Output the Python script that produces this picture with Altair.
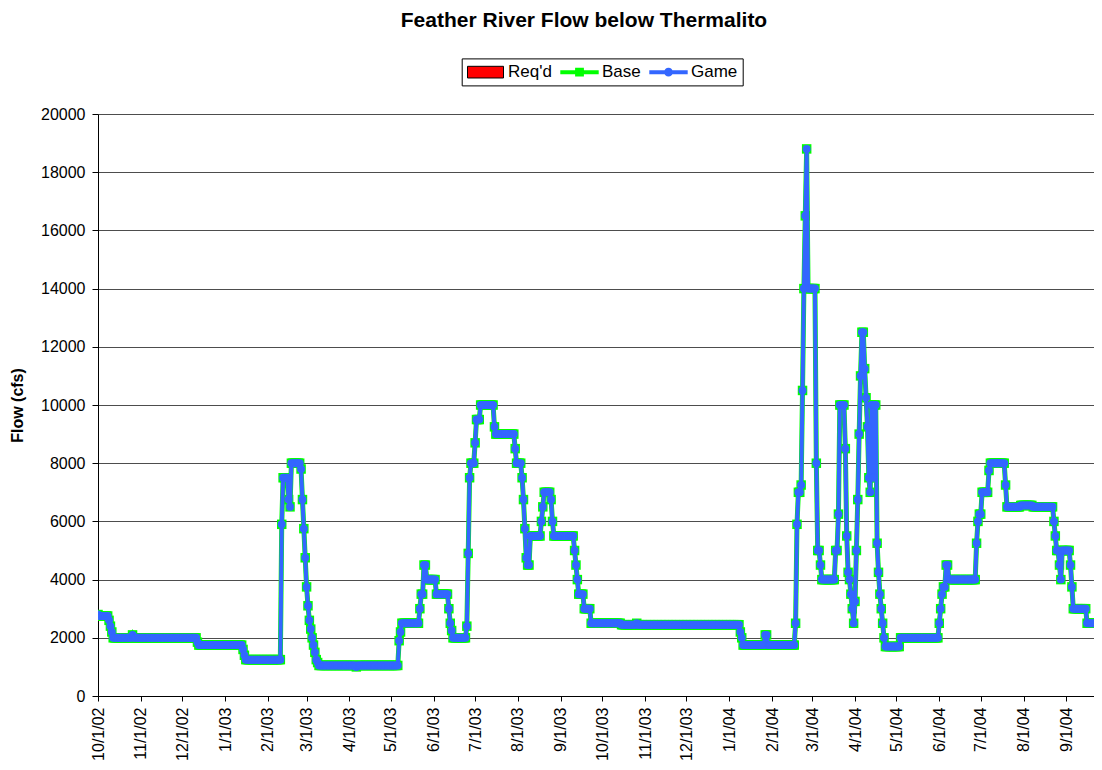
import altair as alt
import pandas as pd

FONT = "Liberation Sans"

# ---- data: daily flow, given as runs (start date of each constant run, value in cfs)
run_dates = [
    "2002-10-01", "2002-10-02", "2002-10-09", "2002-10-10", "2002-10-11", "2002-10-12",
    "2002-10-26", "2002-10-27",
    "2002-12-12", "2002-12-13",
    "2003-01-14", "2003-01-15", "2003-01-16",
    "2003-02-11", "2003-02-12", "2003-02-16", "2003-02-17", "2003-02-18", "2003-02-25",
    "2003-02-26", "2003-02-27", "2003-02-28", "2003-03-01", "2003-03-02", "2003-03-03",
    "2003-03-04", "2003-03-05", "2003-03-06", "2003-03-07", "2003-03-08", "2003-03-09",
    "2003-03-10",
    "2003-04-06", "2003-04-07",
    "2003-05-07", "2003-05-08", "2003-05-09",
    "2003-05-22", "2003-05-23", "2003-05-25", "2003-05-27",
    "2003-06-03", "2003-06-12", "2003-06-13", "2003-06-14", "2003-06-15",
    "2003-06-25", "2003-06-26", "2003-06-27", "2003-06-28", "2003-07-01", "2003-07-02",
    "2003-07-05", "2003-07-15", "2003-07-16", "2003-07-30", "2003-07-31",
    "2003-08-04", "2003-08-05", "2003-08-06", "2003-08-07", "2003-08-08", "2003-08-10",
    "2003-08-18", "2003-08-19", "2003-08-20", "2003-08-25", "2003-08-26", "2003-08-27",
    "2003-09-11", "2003-09-12", "2003-09-13", "2003-09-14", "2003-09-18", "2003-09-23",
    "2003-10-15", "2003-10-26", "2003-10-27",
    "2004-01-09", "2004-01-10", "2004-01-11", "2004-01-27", "2004-01-29",
    "2004-02-18", "2004-02-19", "2004-02-20", "2004-02-22", "2004-02-23", "2004-02-24",
    "2004-02-25", "2004-02-26", "2004-02-27",
    "2004-03-04", "2004-03-05", "2004-03-07", "2004-03-08", "2004-03-18", "2004-03-20",
    "2004-03-21", "2004-03-25", "2004-03-26", "2004-03-27", "2004-03-28", "2004-03-29",
    "2004-03-30", "2004-03-31", "2004-04-01", "2004-04-02", "2004-04-03", "2004-04-04",
    "2004-04-05", "2004-04-06", "2004-04-08", "2004-04-09", "2004-04-10", "2004-04-11",
    "2004-04-12", "2004-04-13", "2004-04-14", "2004-04-15", "2004-04-17", "2004-04-18",
    "2004-04-19", "2004-04-20", "2004-04-21", "2004-04-22", "2004-04-23", "2004-05-04",
    "2004-06-01", "2004-06-02", "2004-06-03", "2004-06-04", "2004-06-06", "2004-06-08",
    "2004-06-28", "2004-06-29", "2004-06-30", "2004-07-02", "2004-07-07", "2004-07-08",
    "2004-07-19", "2004-07-20", "2004-07-30", "2004-08-08", "2004-08-23", "2004-08-24",
    "2004-08-25", "2004-08-27", "2004-08-28", "2004-08-29", "2004-09-04", "2004-09-05",
    "2004-09-06", "2004-09-16",
]
run_values = [
    2800, 2750, 2600, 2400, 2200, 2000,
    2100, 2000,
    1850, 1750,
    1600, 1400, 1250,
    5900, 7500, 6750, 6500, 8000, 7800,
    6750, 5750, 4750, 3750, 3100, 2600,
    2300, 2000, 1750, 1500, 1250, 1150,
    1050,
    1000, 1050,
    1900, 2200, 2500,
    3000, 3500, 4500, 4000,
    3500, 3000, 2500, 2250, 2000,
    2400, 4900, 7500, 8000, 8700, 9500,
    10000, 9250, 9000, 8500, 8000,
    7500, 6750, 5750, 4750, 4500, 5500,
    6000, 6500, 7000, 6750, 6000, 5500,
    5000, 4500, 4000, 3500, 3000, 2500,
    2450, 2500, 2450,
    2200, 2000, 1750, 2100, 1750,
    2500, 5900, 7000, 7250, 10500, 14000,
    16500, 18800, 14000,
    8000, 5000, 4500, 4000, 5000, 6250,
    10000, 8500, 5500, 4250, 4000, 3500,
    3000, 2500, 3250, 5000, 6750, 9000,
    11000, 12500, 11250, 10250, 9250, 7500,
    7000, 10000, 7500, 10000, 5250, 4250,
    3500, 3000, 2500, 2000, 1700, 2000,
    2500, 3000, 3500, 3750, 4500, 4000,
    5250, 6000, 6250, 7000, 7750, 8000,
    7250, 6500, 6550, 6500, 6000, 5500,
    5000, 4500, 4000, 5000, 4500, 3750,
    3000, 2500,
]
series_names = ["Req'd", "Base", "Game"]
series_colors = ["#FF0000", "#00FF00", "#3366FF"]
legend_outline = ["#000000", "transparent", "transparent"]
tick_months = [(2002, m) for m in (10, 11, 12)] + [(2003, m) for m in range(1, 13)] + \
              [(2004, m) for m in range(1, 10)]
y_ticks = list(range(0, 20001, 2000))

# expand runs to daily records (each run holds its value until the next run starts)
days = pd.date_range("2002-10-01", "2004-09-30", freq="D")
runs = pd.Series(run_values, index=pd.to_datetime(run_dates))
daily = runs.reindex(days, method="ffill")
date_str = list(days.strftime("%Y-%m-%d"))
df = pd.concat([
    pd.DataFrame({"date": date_str, "flow": daily.values, "series": "Base"}),
    pd.DataFrame({"date": date_str, "flow": daily.values, "series": "Game"}),
], ignore_index=True)

# ---- legend symbols (custom paths): red box, green line+square, blue line+circle
REQ_PATH = "M-2.25,-0.73H2.25V0.73H-2.25Z"
BASE_PATH = "M-2.4,-0.25H-0.55V-0.55H0.55V-0.25H2.4V0.25H0.55V0.55H-0.55V0.25H-2.4Z"
GAME_PATH = ("M-2.4,-0.25H2.4V0.25H-2.4Z "
             "M0.55,0A0.55,0.55 0 1,1 -0.55,0A0.55,0.55 0 1,1 0.55,0Z")
legend_shapes = [REQ_PATH, BASE_PATH, GAME_PATH]

legend = alt.Legend(
    title=None, orient="none", legendX=363.7, legendY=-55.6, direction="horizontal",
    strokeColor="black", fillColor="white", padding=5,
    labelFont=FONT, labelFontSize=17, labelColor="black", labelOffset=14, labelLimit=300,
    symbolSize=256, symbolStrokeWidth=1, symbolOffset=10.3, columnPadding=5,
    symbolOpacity=1,
)

x_enc = alt.X(
    "date:T",
    scale=alt.Scale(type="utc",
                    domain=[alt.DateTime(year=2002, month=10, date=1, utc=True),
                            alt.DateTime(year=2004, month=9, date=21, utc=True)]),
    axis=alt.Axis(values=[alt.DateTime(year=y, month=m, date=1, utc=True) for y, m in tick_months],
                  format="%-m/%-d/%y", labelAngle=-90, grid=False, title=None,
                  tickSize=5, labelPadding=6, labelFont=FONT, labelFontSize=16,
                  labelColor="black", tickColor="black", domainColor="black",
                  labelOverlap=False, labelBound=False, labelFlush=False),
)
y_enc = alt.Y(
    "flow:Q",
    scale=alt.Scale(domain=[0, 20000], nice=False),
    axis=alt.Axis(values=y_ticks, format="d", title="Flow (cfs)", titleFont=FONT,
                  titleFontSize=16, titleFontWeight="bold", titleColor="black",
                  titlePadding=15,
                  labelFont=FONT, labelFontSize=16, labelColor="black", labelPadding=7,
                  tickSize=6, tickColor="black", domainColor="black",
                  grid=True, gridColor="#4d4d4d", gridWidth=1, labelOverlap=False),
)

base = alt.Chart(df)
base_df = base.transform_filter("datum.series === 'Base'")
game_df = base.transform_filter("datum.series === 'Game'")
base_line = base_df.mark_line(color=series_colors[1], strokeWidth=5, clip=True).encode(
    x=x_enc, y=y_enc)
base_pts = base_df.mark_point(color=series_colors[1], shape="square", filled=True, size=90,
                              opacity=1, strokeWidth=0, clip=True).encode(x=x_enc, y=y_enc)
game_line = game_df.mark_line(color=series_colors[2], strokeWidth=4, clip=True).encode(
    x=x_enc, y=y_enc)
game_pts = game_df.mark_point(color=series_colors[2], shape="circle", filled=True, size=64,
                              opacity=1, strokeWidth=0, clip=True).encode(x=x_enc, y=y_enc)

# legend carrier: draws no rows, only provides the merged fill/stroke/shape legend
legend_layer = base.transform_filter("false").mark_point(
    filled=True, size=256, opacity=1, strokeWidth=1).encode(
    fill=alt.Fill("series:N", scale=alt.Scale(domain=series_names, range=series_colors),
                  legend=legend),
    stroke=alt.Stroke("series:N", scale=alt.Scale(domain=series_names, range=legend_outline),
                      legend=legend),
    shape=alt.Shape("series:N", scale=alt.Scale(domain=series_names, range=legend_shapes),
                    legend=legend),
)

chart = alt.layer(base_line, base_pts, game_line, game_pts, legend_layer).properties(
    width=996, height=582,
    padding={"left": 90, "top": 106, "right": 0, "bottom": 65},
    autosize=alt.AutoSizeParams(type="none"),
    title=alt.TitleParams("Feather River Flow below Thermalito", font=FONT, fontSize=21,
                          fontWeight="bold", color="black", anchor="middle", dx=-12,
                          offset=27),
).configure_view(strokeWidth=0).configure(background="white")

chart.save("out.html", embed_options={"renderer": "svg", "actions": False})
